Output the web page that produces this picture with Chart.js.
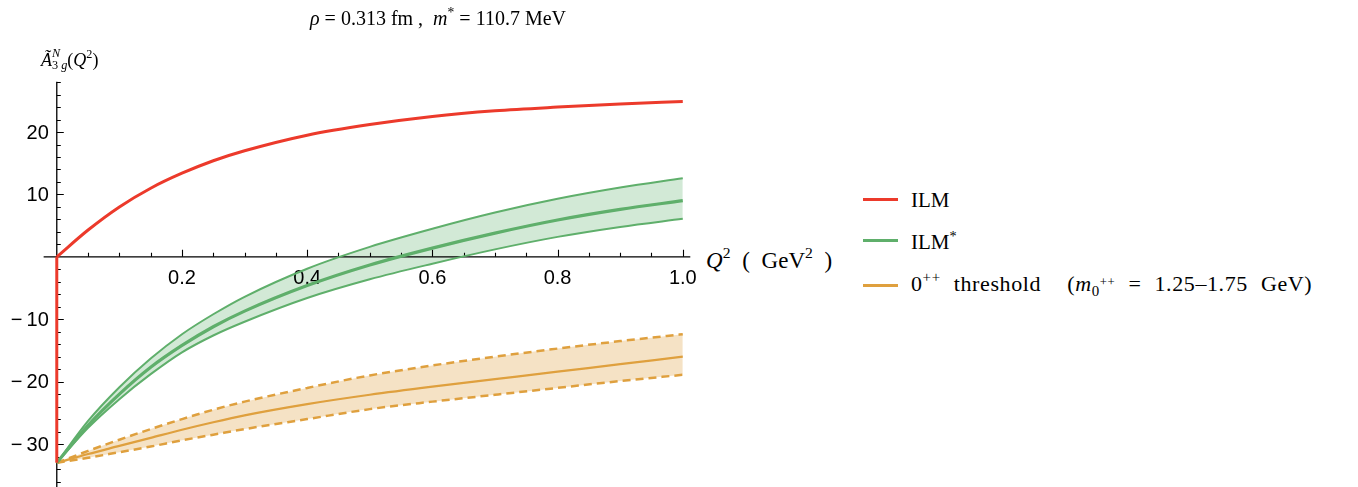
<!DOCTYPE html>
<html>
<head>
<meta charset="utf-8">
<script src="https://cdn.jsdelivr.net/npm/chart.js@4.4.0/dist/chart.umd.min.js"></script>
<style>
  body { margin: 0; background: #fff; width: 1358px; height: 487px; overflow: hidden; position: relative; }
  #plot { position: absolute; left: 0; top: 0; }
  .txt { position: absolute; white-space: nowrap; color: #000; font-family: "Liberation Serif", "Times New Roman", serif; line-height: 1; }
  .txt i { font-style: italic; }
  .up { position: relative; font-size: 0.68em; }
  .zw { display: inline-block; width: 0; }
  .key { position: absolute; left: 863px; width: 35px; height: 3px; }
</style>
</head>
<body>
<canvas id="plot" width="700" height="487"></canvas>

<div class="txt" id="title" style="font-size:20px; left:438px; top:8px; transform:translateX(-50%);">
  <i>ρ</i> = 0.313 fm ,&nbsp; <i>m</i><span class="up" style="top:-8px">*</span> = 110.7 MeV
</div>

<div class="txt" id="ylab" style="font-size:18px; left:41px; top:51px;">
  <i>Ã</i><span class="up zw" style="top:-9px"><i>N</i></span><span class="up" style="top:3px">3 <i>g</i></span>(<i>Q</i><span class="up" style="top:-8px">2</span>)
</div>

<div class="txt" id="xlab" style="font-size:23px; left:706px; top:249px; word-spacing:6px;">
  <i>Q</i><span class="up" style="top:-10px">2</span> ( GeV<span class="up" style="top:-10px">2</span> )
</div>

<div class="key" style="top:198px; background:#EC3A2B;"></div>
<div class="txt" style="font-size:21px; left:911px; top:190px;">ILM</div>
<div class="key" style="top:239px; background:#5FAF6B;"></div>
<div class="txt" style="font-size:21px; left:911px; top:232px;">ILM<span class="up" style="top:-8px">*</span></div>
<div class="key" style="top:284px; background:#DFA03E;"></div>
<div class="txt" style="font-size:22px; left:911px; top:273px; letter-spacing:0.6px; word-spacing:7px;">
  0<span class="up" style="top:-9px">++</span> threshold&nbsp; (<i>m</i><span class="up" style="top:5px">0<span style="position:relative; top:-10px; font-size:0.85em">++</span></span> = 1.25–1.75 GeV)
</div>

<script>
// Q^2 grid (GeV^2)
const q2 = [0, 0.05, 0.1, 0.15, 0.2, 0.25, 0.3, 0.4, 0.5, 0.6, 0.7, 0.8, 0.9, 1.0];

// ILM
const ilm = [0, 4.3, 8.0, 11.0, 13.4, 15.4, 17.0, 19.5, 21.2, 22.5, 23.4, 24.0, 24.5, 24.9];
const ilmAtZero = [-33, 0]; // vertical jump at Q^2 = 0

// ILM* band
const ilmStar = [-33, -27.0, -22.0, -17.7, -14.2, -11.2, -8.7, -4.6, -1.3, 1.4, 3.8, 5.9, 7.6, 9.0];
const ilmStarHi = [-33, -26.3, -20.9, -16.3, -12.4, -9.2, -6.4, -1.9, 1.6, 4.5, 7.1, 9.3, 11.1, 12.6];
const ilmStarLo = [-33, -27.4, -22.8, -18.8, -15.3, -12.6, -10.4, -6.6, -3.6, -1.1, 1.2, 3.2, 4.8, 6.1];

// 0++ threshold band
const thr = [-33, -31.6, -30.3, -29.0, -27.7, -26.5, -25.4, -23.6, -22.1, -20.8, -19.6, -18.4, -17.2, -16.0];
const thrHi = [-33, -31.1, -29.3, -27.6, -26.0, -24.5, -23.2, -21.0, -19.0, -17.4, -16.0, -14.7, -13.5, -12.4];
const thrLo = [-33, -32.2, -31.3, -30.4, -29.4, -28.5, -27.6, -26.0, -24.4, -23.2, -22.1, -21.0, -19.9, -18.9];

// axis ticks
const xTickValues = [0.2, 0.4, 0.6, 0.8, 1.0];
const xTickLabels = ["0.2", "0.4", "0.6", "0.8", "1.0"];
const yTickValues = [-30, -20, -10, 10, 20];
const yTickLabels = ["\u2212\u200930", "\u2212\u200920", "\u2212\u200910", "10", "20"];

const RED = "#EC3A2B";
const GREEN = "#5FAF6B";
const ORANGE = "#DFA03E";

function pts(ys) {
  return q2.map((x, i) => ({ x: x, y: ys[i] }));
}

function line(data, color, width, extra) {
  return Object.assign({
    data: data,
    borderColor: color,
    borderWidth: width,
    pointRadius: 0,
    showLine: true,
    fill: false,
    cubicInterpolationMode: "monotone",
  }, extra || {});
}

// Mathematica-like axes crossing at the origin
const axesPlugin = {
  id: "originAxes",
  beforeDatasetsDraw(chart) {
    const { ctx, scales } = chart;
    const sx = scales.x, sy = scales.y;
    const x0 = sx.getPixelForValue(0);
    const y0 = sy.getPixelForValue(0);
    ctx.save();
    ctx.strokeStyle = "#000";
    ctx.lineWidth = 1.3;
    ctx.beginPath();
    ctx.moveTo(sx.getPixelForValue(-0.021), y0);
    ctx.lineTo(sx.getPixelForValue(1.012), y0);
    ctx.moveTo(x0, sy.getPixelForValue(28.05));
    ctx.lineTo(x0, chart.height);
    ctx.stroke();

    ctx.lineWidth = 1.1;
    ctx.beginPath();
    for (let k = 1; k <= 20; k++) {
      const v = k * 0.05;
      const px = Math.round(sx.getPixelForValue(v)) + 0.5;
      const len = k % 4 === 0 ? 7 : 4;
      ctx.moveTo(px, y0);
      ctx.lineTo(px, y0 - len);
    }
    for (let v = -36; v <= 28; v += 2) {
      if (v === 0) continue;
      const py = Math.round(sy.getPixelForValue(v)) + 0.5;
      const len = v % 10 === 0 ? 7 : 4;
      ctx.moveTo(x0, py);
      ctx.lineTo(x0 + len, py);
    }
    ctx.stroke();

    ctx.fillStyle = "#000";
    ctx.font = '20px "Liberation Sans", Arial, sans-serif';
    ctx.textAlign = "center";
    ctx.textBaseline = "alphabetic";
    xTickValues.forEach((v, i) => {
      ctx.fillText(xTickLabels[i], sx.getPixelForValue(v), y0 + 27);
    });
    ctx.textAlign = "right";
    ctx.textBaseline = "middle";
    yTickValues.forEach((v, i) => {
      ctx.fillText(yTickLabels[i], x0 - 8, sy.getPixelForValue(v) + 1);
    });
    ctx.restore();
  }
};

new Chart(document.getElementById("plot").getContext("2d"), {
  type: "scatter",
  data: {
    datasets: [
      line([{ x: 0, y: ilmAtZero[0] }, { x: 0, y: ilmAtZero[1] }], RED, 3, { cubicInterpolationMode: "default", tension: 0 }),
      line(pts(ilm), RED, 3),
      line(pts(ilmStar), GREEN, 3.2),
      line(pts(ilmStarHi), GREEN, 2, { fill: { target: 4, above: "rgba(95,175,107,0.28)", below: "rgba(95,175,107,0.28)" } }),
      line(pts(ilmStarLo), GREEN, 2),
      line(pts(thr), ORANGE, 2.2),
      line(pts(thrHi), ORANGE, 2.5, { borderDash: [8, 5], fill: { target: 7, above: "rgba(223,160,62,0.3)", below: "rgba(223,160,62,0.3)" } }),
      line(pts(thrLo), ORANGE, 2.5, { borderDash: [8, 5] }),
    ],
  },
  options: {
    responsive: false,
    animation: false,
    layout: { padding: { left: 38, right: 4.7, top: 79, bottom: 0 } },
    scales: {
      x: { type: "linear", min: -0.03, max: 1.02, display: false },
      y: { type: "linear", min: -36.88, max: 28.5, display: false },
    },
    plugins: {
      legend: { display: false },
      tooltip: { enabled: false },
      filler: { drawTime: "beforeDatasetsDraw" },
    },
  },
  plugins: [axesPlugin],
});
</script>
</body>
</html>
